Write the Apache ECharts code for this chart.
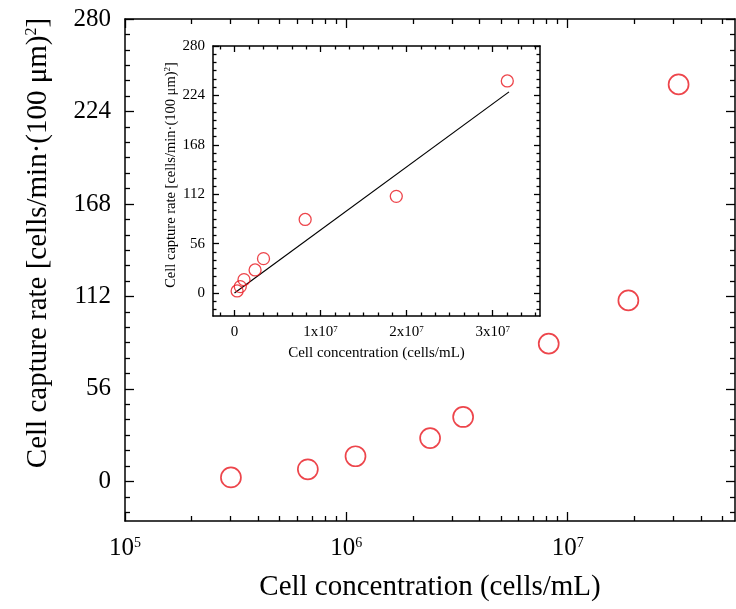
<!DOCTYPE html>
<html>
<head>
<meta charset="utf-8">
<script src="https://cdn.jsdelivr.net/npm/echarts@6.0.0/dist/echarts.min.js"></script>
</head>
<body style="margin:0">
<div id="container" style="width:736px;height:609px"></div>
<script>
// cell concentration (cells/mL) and capture rate
var concentration = [3.01e5, 6.7e5, 1.1e6, 2.39e6, 3.37e6, 8.21e6, 1.88e7, 3.17e7];
var captureRate = [2.4, 7.3, 15.2, 26.2, 39, 83.4, 109.6, 240.4];
// linear fit drawn in the inset
var fitX = [0, 3.19e7];
var fitY = [0, 228];

var yTicks = [0, 56, 112, 168, 224, 280];
var logTicks = [1e5, 1e6, 1e7];
var insetXTicks = [0, 1e7, 2e7, 3e7];
var logMinor = [2e5, 3e5, 4e5, 5e5, 6e5, 7e5, 8e5, 9e5,
                2e6, 3e6, 4e6, 5e6, 6e6, 7e6, 8e6, 9e6,
                2e7, 3e7, 4e7, 5e7];

var serif = 'Liberation Serif';
var red = '#e8161e';

// minor ticks: 6 steps between majors
var yMinor = [];
for (var k = -2; k <= 30; k++) if (k % 6 !== 0) yMinor.push(k * 56 / 6);
var insetXMinor = [];
for (var k = -1; k <= 21; k++) if (k % 6 !== 0) insetXMinor.push(k * 1e7 / 6);

var points = concentration.map(function (c, i) { return [c, captureRate[i]]; });
var fitLine = fitX.map(function (x, i) { return [x, fitY[i]]; });

function edge(base, o) {
    // one side of a boxed frame, ticks pointing inward
    var a = {
        gridIndex: o.grid,
        position: o.pos,
        type: o.type,
        min: o.min,
        max: o.max,
        splitLine: {show: false},
        axisLine: {show: o.line, onZero: false, lineStyle: {color: '#000', width: 1.5}},
        axisTick: {show: true, inside: true, length: o.len, customValues: o.ticks,
                   lineStyle: {color: '#000', width: 1.3}},
        axisLabel: {show: false},
        z: o.z || 5
    };
    for (var key in base) a[key] = base[key];
    return a;
}

var mainX = {grid: 0, type: 'log', min: 1e5, max: 5.7e7};
var mainY = {grid: 0, type: 'value', min: -24, max: 280};
var insX = {grid: 1, type: 'value', min: -2.5e6, max: 3.55e7};
var insY = {grid: 1, type: 'value', min: -26, max: 280};

function o(b, ext) { var r = {}; for (var k in b) r[k] = b[k]; for (var k in ext) r[k] = ext[k]; return r; }

var xAxes = [
    edge({
        name: 'Cell concentration (cells/mL)',
        nameLocation: 'middle',
        nameGap: 52,
        nameTextStyle: {fontFamily: serif, fontSize: 29, color: '#000'},
        axisLabel: {
            show: true, margin: 15, color: '#000', customValues: logTicks,
            formatter: function (v) {
                return '{b|10}{s|' + Math.round(Math.log10(v)) + '}';
            },
            rich: {
                b: {fontFamily: serif, fontSize: 25, color: '#000'},
                s: {fontFamily: serif, fontSize: 14, color: '#000', verticalAlign: 'top'}
            }
        }
    }, o(mainX, {pos: 'bottom', line: true, len: 9, ticks: logTicks})),
    edge({}, o(mainX, {pos: 'bottom', line: false, len: 5, ticks: logMinor})),
    edge({}, o(mainX, {pos: 'top', line: true, len: 9, ticks: logTicks})),
    edge({}, o(mainX, {pos: 'top', line: false, len: 5, ticks: logMinor})),

    edge({
        name: 'Cell concentration (cells/mL)',
        nameLocation: 'middle',
        nameGap: 30,
        nameTextStyle: {fontFamily: serif, fontSize: 15, color: '#000'},
        axisLabel: {
            show: true, margin: 9, customValues: insetXTicks,
            formatter: function (v) {
                if (v === 0) return '{b|0}';
                return '{b|' + Math.round(v / 1e7) + 'x10}{s|7}';
            },
            rich: {
                b: {fontFamily: serif, fontSize: 15, color: '#000'},
                s: {fontFamily: serif, fontSize: 9, color: '#000', verticalAlign: 'top'}
            }
        }
    }, o(insX, {pos: 'bottom', line: true, len: 6, ticks: insetXTicks, z: 10})),
    edge({}, o(insX, {pos: 'bottom', line: false, len: 3.5, ticks: insetXMinor, z: 10})),
    edge({}, o(insX, {pos: 'top', line: true, len: 6, ticks: insetXTicks, z: 10})),
    edge({}, o(insX, {pos: 'top', line: false, len: 3.5, ticks: insetXMinor, z: 10}))
];

var yName = '{t|Cell capture rate [cells/min·(100 μm)}{s|2}{t|]}';

var yAxes = [
    edge({
        name: yName,
        nameLocation: 'middle',
        nameGap: 72,
        nameRotate: 90,
        nameTextStyle: {
            padding: [0, 0, 0, 54],
            rich: {
                t: {fontFamily: serif, fontSize: 29, color: '#000'},
                s: {fontFamily: serif, fontSize: 16, color: '#000', verticalAlign: 'top'}
            }
        },
        axisLabel: {show: true, margin: 14, customValues: yTicks,
                    fontFamily: serif, fontSize: 25, color: '#000'}
    }, o(mainY, {pos: 'left', line: true, len: 9, ticks: yTicks})),
    edge({}, o(mainY, {pos: 'left', line: false, len: 5, ticks: yMinor})),
    edge({}, o(mainY, {pos: 'right', line: true, len: 9, ticks: yTicks})),
    edge({}, o(mainY, {pos: 'right', line: false, len: 5, ticks: yMinor})),

    edge({
        name: yName,
        nameLocation: 'middle',
        nameGap: 29,
        nameRotate: 90,
        nameTextStyle: {
            padding: [0, 0, 0, 12],
            rich: {
                t: {fontFamily: serif, fontSize: 14.5, color: '#000'},
                s: {fontFamily: serif, fontSize: 9, color: '#000', verticalAlign: 'top'}
            }
        },
        axisLabel: {show: true, margin: 8, customValues: yTicks,
                    fontFamily: serif, fontSize: 15, color: '#000'}
    }, o(insY, {pos: 'left', line: true, len: 6, ticks: yTicks, z: 10})),
    edge({}, o(insY, {pos: 'left', line: false, len: 3.5, ticks: yMinor, z: 10})),
    edge({}, o(insY, {pos: 'right', line: true, len: 6, ticks: yTicks, z: 10})),
    edge({}, o(insY, {pos: 'right', line: false, len: 3.5, ticks: yMinor, z: 10}))
];

var chart = echarts.init(document.getElementById('container'));
chart.setOption({
    backgroundColor: '#fff',
    animation: false,
    grid: [
        {left: 125, top: 19, width: 610, height: 502, outerBoundsMode: 'none', containLabel: false},
        {left: 213, top: 46, width: 327, height: 270, show: true, outerBoundsMode: 'none',
         containLabel: false, backgroundColor: '#fff', borderWidth: 0, z: 8}
    ],
    xAxis: xAxes,
    yAxis: yAxes,
    series: [
        {
            type: 'scatter', xAxisIndex: 0, yAxisIndex: 0,
            data: points, symbol: 'circle', symbolSize: 20,
            itemStyle: {color: 'transparent', borderColor: red, borderWidth: 1.7}
        },
        {
            type: 'line', xAxisIndex: 4, yAxisIndex: 4, z: 11,
            data: fitLine, showSymbol: false,
            lineStyle: {color: '#000', width: 1.2}
        },
        {
            type: 'scatter', xAxisIndex: 4, yAxisIndex: 4, z: 12,
            data: points, symbol: 'circle', symbolSize: 12,
            itemStyle: {color: 'transparent', borderColor: red, borderWidth: 1.3}
        }
    ]
});
</script>
</body>
</html>
